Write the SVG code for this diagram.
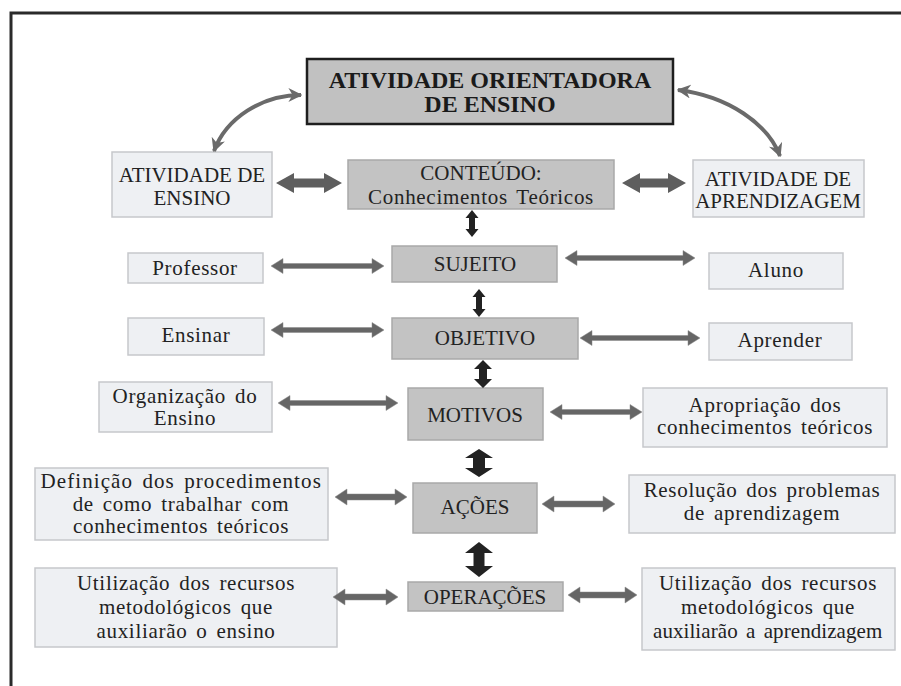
<svg xmlns="http://www.w3.org/2000/svg" width="901" height="686" viewBox="0 0 901 686">
<defs>
<style>
.t{font-family:"Liberation Serif","Times New Roman",serif;font-size:21px;fill:#222;text-anchor:middle}
.lc{letter-spacing:0.7px;word-spacing:3px}
.tb{font-family:"Liberation Serif","Times New Roman",serif;font-size:24px;font-weight:bold;fill:#1a1a1a;text-anchor:middle}
.dark{fill:#c3c3c3;stroke:#a9a9a9;stroke-width:1.5}
.light{fill:#eef0f3;stroke:#c6c8cb;stroke-width:1.5}
.title{fill:#c1c1c1;stroke:#1e1e1e;stroke-width:2.5}
.ha{fill:#5e5e5e}
.ta{fill:#666;stroke:#888;stroke-width:0.5}
.va{fill:#222}
.curve{fill:none;stroke:#6a6a6a;stroke-width:4}
</style>
<marker id="ah" viewBox="0 0 10 10" refX="9" refY="5" markerWidth="14" markerHeight="14" markerUnits="userSpaceOnUse" orient="auto-start-reverse">
<path d="M0,0 L10,5 L0,10 L3,5 z" fill="#6a6a6a"/>
</marker>
</defs>
<rect width="901" height="686" fill="#fff"/>
<path d="M11,686 V13 H901" fill="none" stroke="#2a2a2a" stroke-width="3"/>

<g id="title"><rect class="title" x="307" y="59" width="366" height="65"/><text class="tb" x="490" y="88">ATIVIDADE ORIENTADORA</text><text class="tb" x="490" y="112">DE ENSINO</text></g>
<g id="ativ-ensino"><rect class="light" x="112" y="152" width="160" height="65"/><text class="t" x="192" y="182">ATIVIDADE DE</text><text class="t" x="192" y="205">ENSINO</text></g>
<g id="conteudo"><rect class="dark" x="348" y="160" width="266" height="49"/><text class="t" x="481" y="180">CONTEÚDO:</text><text class="t lc" x="481" y="204">Conhecimentos Teóricos</text></g>
<g id="ativ-aprend"><rect class="light" x="693" y="160" width="171" height="57"/><text class="t" x="778" y="186">ATIVIDADE DE</text><text class="t" x="778" y="208">APRENDIZAGEM</text></g>

<g id="professor"><rect class="light" x="128" y="253" width="135" height="30"/><text class="t lc" x="195" y="275">Professor</text></g>
<g id="sujeito"><rect class="dark" x="392" y="246" width="165" height="36"/><text class="t" x="475" y="271">SUJEITO</text></g>
<g id="aluno"><rect class="light" x="709" y="253" width="134" height="36"/><text class="t lc" x="776" y="277">Aluno</text></g>

<g id="ensinar"><rect class="light" x="128" y="318" width="136" height="37"/><text class="t lc" x="196" y="342">Ensinar</text></g>
<g id="objetivo"><rect class="dark" x="392" y="318" width="186" height="41"/><text class="t" x="485" y="345">OBJETIVO</text></g>
<g id="aprender"><rect class="light" x="709" y="323" width="143" height="37"/><text class="t lc" x="780" y="347">Aprender</text></g>

<g id="organizacao"><rect class="light" x="99" y="382" width="173" height="50"/><text class="t lc" x="185" y="403">Organização do</text><text class="t lc" x="185" y="425">Ensino</text></g>
<g id="motivos"><rect class="dark" x="408" y="388" width="135" height="52"/><text class="t" x="475" y="422">MOTIVOS</text></g>
<g id="apropriacao"><rect class="light" x="643" y="388" width="244" height="59"/><text class="t lc" x="765" y="412">Apropriação dos</text><text class="t lc" x="765" y="434">conhecimentos teóricos</text></g>

<g id="definicao"><rect class="light" x="35" y="468" width="293" height="72"/><text class="t lc" x="181" y="488" textLength="281" lengthAdjust="spacing">Definição dos procedimentos</text><text class="t lc" x="181" y="511">de como trabalhar com</text><text class="t lc" x="181" y="533">conhecimentos teóricos</text></g>
<g id="acoes"><rect class="dark" x="413" y="483" width="124" height="50"/><text class="t" x="475" y="514">AÇÕES</text></g>
<g id="resolucao"><rect class="light" x="629" y="475" width="266" height="58"/><text class="t lc" x="762" y="497">Resolução dos problemas</text><text class="t lc" x="762" y="520">de aprendizagem</text></g>

<g id="util-ensino"><rect class="light" x="35" y="568" width="302" height="79"/><text class="t lc" x="186" y="590">Utilização dos recursos</text><text class="t lc" x="186" y="614">metodológicos que</text><text class="t lc" x="186" y="638">auxiliarão o ensino</text></g>
<g id="operacoes"><rect class="dark" x="408" y="582" width="155" height="29"/><text class="t" x="485" y="604">OPERAÇÕES</text></g>
<g id="util-aprend"><rect class="light" x="642" y="568" width="253" height="82"/><text class="t lc" x="768" y="590">Utilização dos recursos</text><text class="t lc" x="768" y="614">metodológicos que</text><text class="t lc" x="768" y="638" textLength="230" lengthAdjust="spacing">auxiliarão a aprendizagem</text></g>

<g id="connectors">
<path class="curve" d="M301,95 C262,95 226,118 214,151" marker-start="url(#ah)" marker-end="url(#ah)"/>
<path class="curve" d="M678,90 C728,96 768,124 780,156" marker-start="url(#ah)" marker-end="url(#ah)"/>
<polygon class="ha" points="276,183 294,173 294,178.5 324,178.5 324,173 342,183 324,193 324,187.5 294,187.5 294,193"/>
<polygon class="ha" points="622,183 640,173 640,178.5 668,178.5 668,173 686,183 668,193 668,187.5 640,187.5 640,193"/>
<polygon class="ta" points="271,266 283,258.5 283,263.5 372,263.5 372,258.5 384,266 372,273.5 372,268.5 283,268.5 283,273.5"/>
<polygon class="ta" points="565,258 577,250.5 577,255.5 683,255.5 683,250.5 695,258 683,265.5 683,260.5 577,260.5 577,265.5"/>
<polygon class="ta" points="271,330 283,322.5 283,327.5 372,327.5 372,322.5 384,330 372,337.5 372,332.5 283,332.5 283,337.5"/>
<polygon class="ta" points="580,338 592,330.5 592,335.5 688,335.5 688,330.5 700,338 688,345.5 688,340.5 592,340.5 592,345.5"/>
<polygon class="ta" points="278,403 290,395.5 290,400.5 386,400.5 386,395.5 398,403 386,410.5 386,405.5 290,405.5 290,410.5"/>
<polygon class="ta" points="550,412 562,404.5 562,409.5 630,409.5 630,404.5 642,412 630,419.5 630,414.5 562,414.5 562,419.5"/>
<polygon class="ta" points="335,497 347,489 347,494 395,494 395,489 407,497 395,505 395,500 347,500 347,505"/>
<polygon class="ta" points="542,504 554,496 554,501 603,501 603,496 615,504 603,512 603,507 554,507 554,512"/>
<polygon class="ta" points="333,597 345,589 345,594 386,594 386,589 398,597 386,605 386,600 345,600 345,605"/>
<polygon class="ta" points="568,595 580,587 580,592 625,592 625,587 637,595 625,603 625,598 580,598 580,603"/>
<polygon class="va" points="472,210 478.5,218 475,218 475,229 478.5,229 472,237 465.5,229 469,229 469,218 465.5,218"/>
<polygon class="va" points="479,289 485.5,297 482,297 482,309 485.5,309 479,317 472.5,309 476,309 476,297 472.5,297"/>
<polygon class="va" points="483,360 492,369 487,369 487,379 492,379 483,388 474,379 479,379 479,369 474,369"/>
<polygon class="va" points="479,449 493,458 485,458 485,468 493,468 479,477 465,468 473,468 473,458 465,458"/>
<polygon class="va" points="479,542 493,553 484.5,553 484.5,566 493,566 479,577 465,566 473.5,566 473.5,553 465,553"/>
</g>
</svg>
